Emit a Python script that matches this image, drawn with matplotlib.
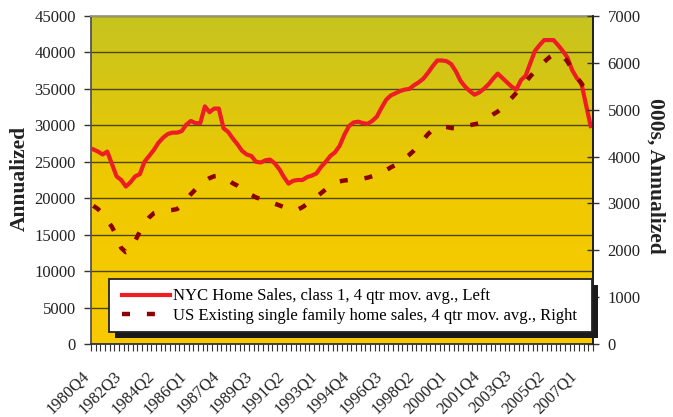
import numpy as np
import matplotlib
matplotlib.use("Agg")
import matplotlib.pyplot as plt
from matplotlib.colors import LinearSegmentedColormap
from matplotlib.patches import Rectangle
from matplotlib.ticker import FixedLocator
from matplotlib.transforms import ScaledTranslation

# quarters 1980Q4 .. 2007Q3
quarters = []
year, q = 1980, 4
while (year, q) <= (2007, 3):
    quarters.append(f"{year}Q{q}")
    q += 1
    if q > 4:
        year, q = year + 1, 1

tick_labels = ["1980Q4", "1982Q3", "1984Q2", "1986Q1", "1987Q4", "1989Q3",
               "1991Q2", "1993Q1", "1994Q4", "1996Q3", "1998Q2", "2000Q1",
               "2001Q4", "2003Q3", "2005Q2", "2007Q1"]

# NYC home sales, class 1, 4 qtr moving average (left axis)
nyc_sales = [
    26700, 26400, 26000, 26400, 24700, 23000, 22500, 21600, 22200, 23000,
    23300, 25000, 25800, 26600, 27600, 28300, 28800, 29000, 29000, 29200,
    30100, 30600, 30300, 30300, 32600, 31800, 32300, 32300, 29600, 29100,
    28200, 27400, 26500, 26000, 25800, 25000, 24900, 25200, 25300, 24800,
    24000, 22900, 22000, 22400, 22500, 22500, 22900, 23100, 23400, 24300,
    25000, 25800, 26300, 27200, 28700, 29900, 30400, 30500, 30300, 30200,
    30600, 31200, 32400, 33500, 34100, 34400, 34700, 34900, 35000, 35500,
    35900, 36400, 37200, 38100, 38900, 38900, 38800, 38400, 37400, 36100,
    35300, 34700, 34200, 34500, 35000, 35600, 36400, 37100, 36500, 35900,
    35300, 34900, 36200, 36800, 38500, 40200, 41000, 41700, 41700, 41700,
    41000, 40200, 39300, 37600, 36500, 35800, 32800, 29900,
]

# US existing single family home sales, 000s (right axis)
us_sales = [
    2950, 2880, 2780, 2640, 2500, 2300, 2050, 1960, 2000, 2200,
    2400, 2560, 2700, 2790, 2820, 2840, 2850, 2860, 2880, 2950,
    3080, 3200, 3300, 3400, 3480, 3540, 3580, 3590, 3560, 3500,
    3430, 3380, 3310, 3240, 3180, 3130, 3090, 3050, 3020, 2995,
    2960, 2920, 2880, 2860, 2870, 2920, 2990, 3070, 3140, 3220,
    3300, 3380, 3440, 3470, 3490, 3500, 3500, 3510, 3530, 3550,
    3580, 3600, 3650, 3710, 3770, 3820, 3880, 3960, 4040, 4130,
    4240, 4360, 4480, 4570, 4620, 4640, 4630, 4610, 4600, 4610,
    4640, 4670, 4690, 4710, 4760, 4830, 4900, 4960, 5040, 5140,
    5250, 5360, 5470, 5590, 5710, 5820, 5920, 6020, 6110, 6170,
    6200, 6150, 6030, 5860, 5700, 5560, 5410, 5280,
]

plt.rcParams["font.family"] = ["Liberation Serif", "DejaVu Serif"]

W, H = 673, 417
fig = plt.figure(figsize=(W / 100, H / 100), dpi=100)
ax = fig.add_axes([91 / W, 1 - 344 / H, 502 / W, 328 / H])

# gradient background
cmap = LinearSegmentedColormap.from_list("bg", ["#f9ca00", "#efc900", "#c6c420"])
ax.imshow(np.linspace(0, 1, 256)[:, None], cmap=cmap, origin="lower",
          extent=[0, 1, 0, 1], transform=ax.transAxes, aspect="auto", zorder=0)

red_line, = ax.plot(quarters, nyc_sales, color="#ee1c25", lw=3.0,
                    solid_joinstyle="round", zorder=3,
                    label="NYC Home Sales, class 1, 4 qtr mov. avg., Left")

ax.set_xlim(-0.5, len(quarters) - 0.5)
ax.set_ylim(0, 45000)
ax.set_yticks(range(0, 45001, 5000))
ax.set_axisbelow(True)
ax.grid(axis="y", color="#4f4508", lw=1.0)

ax.set_xticks(tick_labels)
ax.xaxis.set_minor_locator(FixedLocator(np.arange(-0.5, len(quarters), 1.0)))
ax.tick_params(axis="x", which="major", length=0, pad=17, labelsize=12,
               labelrotation=45, labelcolor="#222222")
ax.tick_params(axis="x", which="minor", direction="out", length=5, width=0.8,
               color="#333333")
for lab in ax.get_xticklabels():
    lab.set_horizontalalignment("right")
    lab.set_verticalalignment("top")
    lab.set_rotation_mode("anchor")
    lab.set_transform(lab.get_transform() + ScaledTranslation(-9 / 72, 0, fig.dpi_scale_trans))
ax.tick_params(axis="y", direction="out", length=5, width=1, pad=6,
               labelsize=12, labelcolor="#222222", color="#333333")

for side, c in [("left", "#555555"), ("bottom", "#333333"),
                ("top", "#999999"), ("right", "#222222")]:
    ax.spines[side].set_color(c)
    ax.spines[side].set_linewidth(1.3)

ax2 = ax.twinx()
dash_line, = ax2.plot(quarters, us_sales, color="#8c0000", lw=3.2,
                      dashes=(1.8, 3.8), dash_capstyle="butt", zorder=3,
                      label="US Existing single family home sales, 4 qtr mov. avg., Right")
ax2.set_ylim(0, 7000)
ax2.set_yticks(range(0, 7001, 1000))
ax2.tick_params(axis="y", direction="inout", length=9, width=1, pad=6,
                labelsize=12, labelcolor="#222222", color="#333333")
ax2.spines["right"].set_color("#222222")
ax2.spines["right"].set_linewidth(1.3)
for side in ["left", "top", "bottom"]:
    ax2.spines[side].set_visible(False)

# legend box with hard shadow
x0, y0 = (109 - 91) / 502, (344 - 332) / 328
bw, bh = (592 - 109) / 502, (332 - 279) / 328
ax2.add_patch(Rectangle((x0 + 6 / 502, y0 - 6 / 328), bw, bh, transform=ax2.transAxes,
                        facecolor="#1a1a1a", edgecolor="none", clip_on=False, zorder=10))
ax2.add_patch(Rectangle((x0, y0), bw, bh, transform=ax2.transAxes,
                        facecolor="white", edgecolor="#222222", lw=1.3,
                        clip_on=False, zorder=11))
leg = ax2.legend(handles=[red_line, dash_line], loc="center left",
                 bbox_to_anchor=((121.5 - 91) / 502, (344 - 306) / 328),
                 frameon=False, borderpad=0, borderaxespad=0, fontsize=12,
                 handlelength=2.9, handletextpad=0.2, labelspacing=0.2)
leg.set_zorder(12)

fig.text(20 / W, 1 - 178 / H, "Annualized", rotation=90, ha="center", va="center",
         fontsize=15.5, fontweight="bold", color="#222222")
fig.text(655 / W, 1 - 176 / H, "000s, Annualized", rotation=270, ha="center",
         va="center", fontsize=15.5, fontweight="bold", color="#222222")

fig.savefig("out.png", dpi=100)
